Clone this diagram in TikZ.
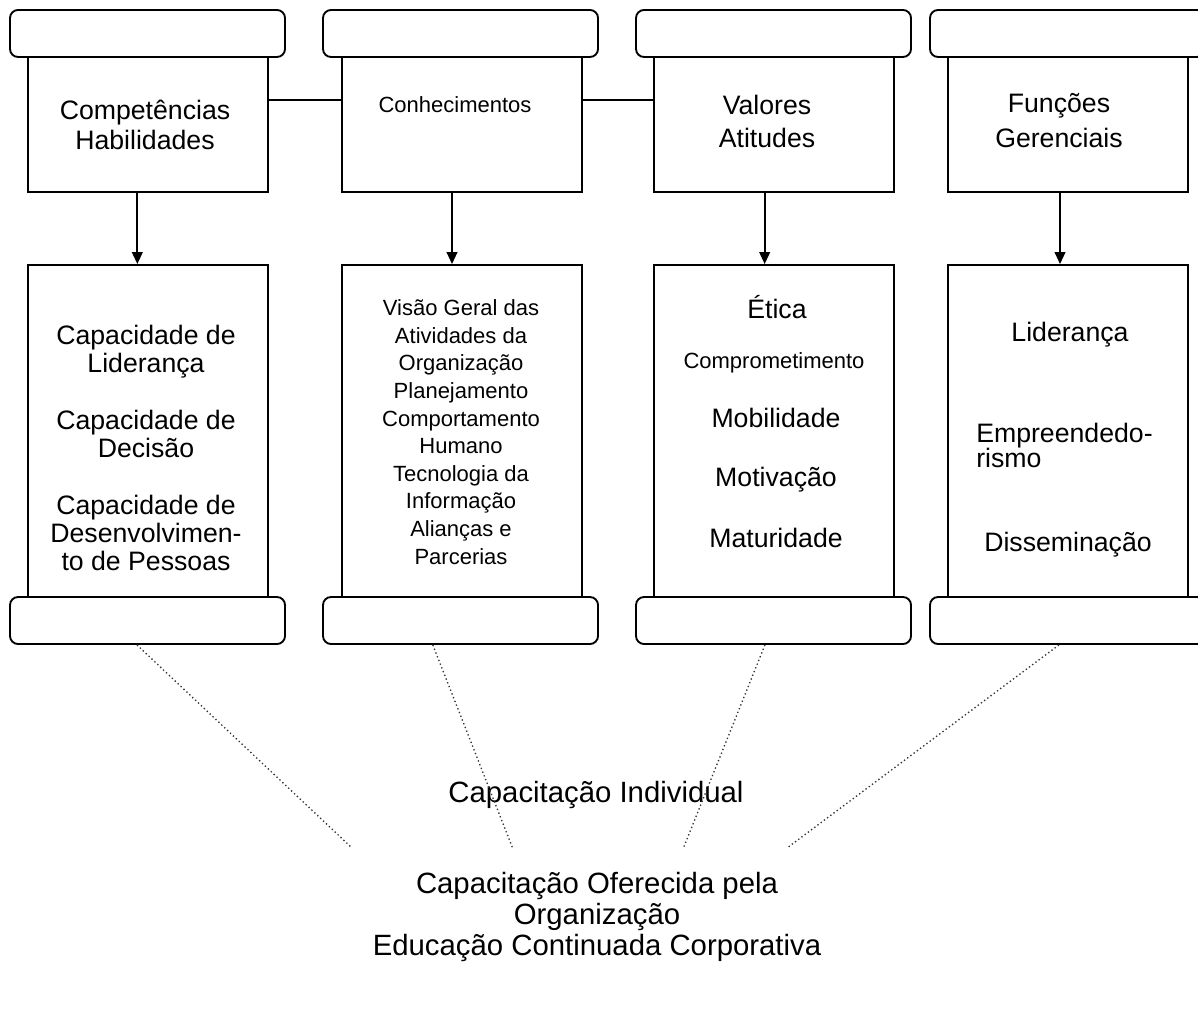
\documentclass[tikz,border=0pt]{standalone}
\usepackage{fontspec}
\setmainfont{Liberation Sans}
\usetikzlibrary{arrows.meta,calc}
\tikzset{
  capbox/.style={draw, line width=1.4pt, rounded corners=6pt, fill=white,
    minimum width=206.25pt, minimum height=35.25pt, inner sep=0pt},
  headbox/.style={draw, line width=1.4pt, fill=white, minimum width=180pt,
    minimum height=101.25pt, inner sep=0pt},
  bodybox/.style={draw, line width=1.4pt, fill=white, minimum width=180pt,
    minimum height=249.75pt, inner sep=0pt},
  bigtxt/.style={font=\fontsize{20}{22.5}\selectfont, align=center, inner sep=0pt},
  listtxt/.style={font=\fontsize{20}{21}\selectfont, align=center, inner sep=0pt},
  smalltxt/.style={font=\fontsize{16.5}{20.7}\selectfont, align=center, inner sep=0pt},
  foottxt/.style={font=\fontsize{22}{23.6}\selectfont, align=center, inner sep=0pt},
  arr/.style={line width=1.4pt, -{Triangle[length=9pt,width=8pt]}},
  link/.style={line width=1.4pt},
  dots/.style={dotted, line width=1pt, black!80}
}
\begin{document}
\begin{tikzpicture}[x=0.75pt,y=-0.75pt]
\useasboundingbox (0,0) rectangle (1198,1030);
\clip (0,0) rectangle (1198,1030);
\fill[white] (0,0) rectangle (1198,1030);

% head boxes
\node[headbox] (h1) at (148,124.5) {};
\node[headbox] (h2) at (462,124.5) {};
\node[headbox] (h3) at (774,124.5) {};
\node[headbox] (h4) at (1068,124.5) {};
% top caps
\node[capbox] (t1) at (147.5,33.5) {};
\node[capbox] (t2) at (460.5,33.5) {};
\node[capbox] (t3) at (773.5,33.5) {};
\node[capbox] (t4) at (1067.5,33.5) {};
% body boxes
\node[bodybox] (l1) at (148,431.5) {};
\node[bodybox] (l2) at (462,431.5) {};
\node[bodybox] (l3) at (774,431.5) {};
\node[bodybox] (l4) at (1068,431.5) {};
% bottom caps
\node[capbox] (b1) at (147.5,620.5) {};
\node[capbox] (b2) at (460.5,620.5) {};
\node[capbox] (b3) at (773.5,620.5) {};
\node[capbox] (b4) at (1067.5,620.5) {};

% head texts
\node[bigtxt] (ht1) at (145,125) {Competências\\Habilidades};
\node[smalltxt] (ht2) at (455,105) {Conhecimentos};
\node[bigtxt, font=\fontsize{20}{24.75}\selectfont] (ht3) at (767,121.5) {Valores\\Atitudes};
\node[bigtxt, font=\fontsize{20}{26}\selectfont] (ht4) at (1059,120.5) {Funções\\Gerenciais};

% body texts
\node[listtxt] (bt1) at (146,448) {Capacidade de\\Liderança\\[22pt]Capacidade de\\Decisão\\[22pt]Capacidade de\\Desenvolvimen-\\to de Pessoas};
\node[smalltxt] (bt2) at (461,432) {Visão Geral das\\Atividades da\\Organização\\Planejamento\\Comportamento\\Humano\\Tecnologia da\\Informação\\Alianças e\\Parcerias};
\node[listtxt] (e1) at (777,307) {Ética};
\node[smalltxt] (e2) at (774,363) {Comprometimento};
\node[listtxt] (e3) at (776,418) {Mobilidade};
\node[listtxt] (e4) at (776,480) {Motivação};
\node[listtxt] (e5) at (776,538) {Maturidade};
\node[listtxt] (f1) at (1070,335) {Liderança};
\node[listtxt, align=left, font=\fontsize{20}{19}\selectfont, anchor=west] (f2) at (976,445.5) {Empreendedo-\\rismo};
\node[listtxt] (f3) at (1068,545) {Disseminação};

% footer texts
\node[foottxt] (c1) at (596,795) {Capacitação Individual};
\node[foottxt] (c2) at (597,917) {Capacitação Oferecida pela\\Organização\\Educação Continuada Corporativa};

% horizontal links
\draw[link] ($(h1.north east)!0.318!(h1.south east)$) -- ($(h2.north west)!0.318!(h2.south west)$);
\draw[link] ($(h2.north east)!0.318!(h2.south east)$) -- ($(h3.north west)!0.318!(h3.south west)$);

% arrows
\draw[arr] ([xshift=-8pt]h1.south) -- ([xshift=-8pt]l1.north);
\draw[arr] ([xshift=-7.5pt]h2.south) -- ([xshift=-7.5pt]l2.north);
\draw[arr] ([xshift=-7pt]h3.south) -- ([xshift=-7pt]l3.north);
\draw[arr] ([xshift=-6pt]h4.south) -- ([xshift=-6pt]l4.north);

% dotted lines
\coordinate (d1) at (352,848);
\coordinate (d2) at (513,849);
\coordinate (d3) at (683,849);
\coordinate (d4) at (787,848);
\draw[dots] ($(b1.south west)!0.462!(b1.south east)$) -- (d1);
\draw[dots] ($(b2.south west)!0.4!(b2.south east)$) -- (d2);
\draw[dots] ($(b3.south west)!0.469!(b3.south east)$) -- (d3);
\draw[dots] ($(b4.south west)!0.469!(b4.south east)$) -- (d4);
\end{tikzpicture}
\end{document}
